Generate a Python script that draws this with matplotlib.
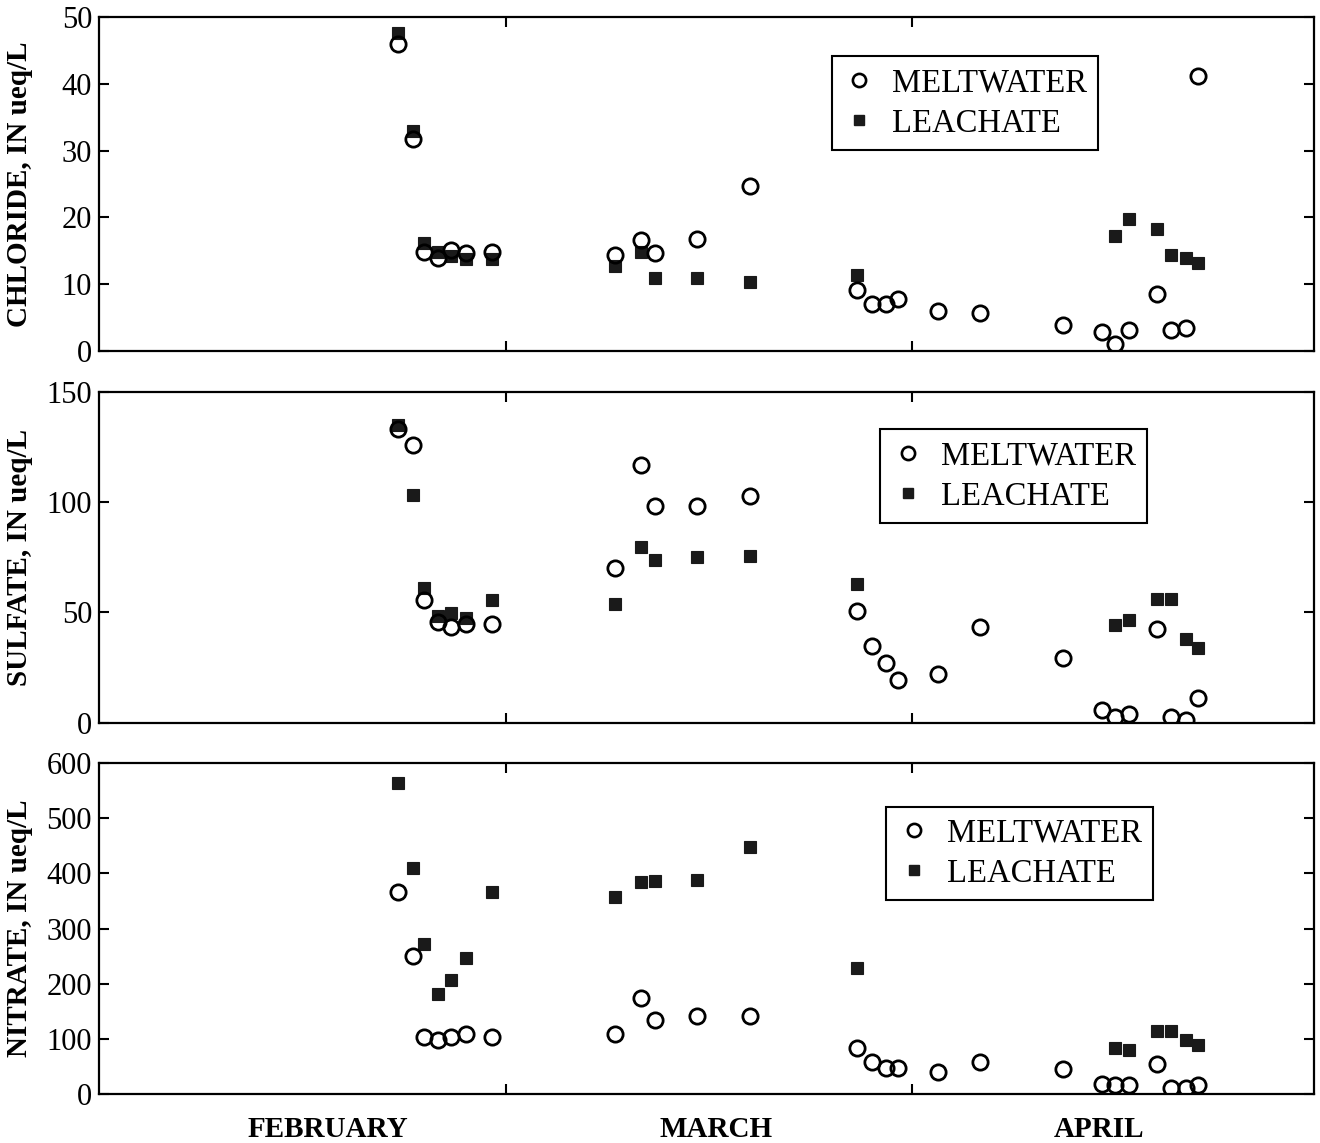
import matplotlib
matplotlib.use("Agg")
import matplotlib.pyplot as plt
from matplotlib.lines import Line2D

# ---- data (x = day counted from March 1) ----
melt_days = [-8.3, -7.1, -6.3, -5.2, -4.2, -3.1, -1.1, 8.3, 10.3, 11.4, 14.6, 18.6,
             26.8, 27.9, 29.0, 29.9, 33.0, 36.2, 42.5, 45.5, 46.5, 47.6, 49.7, 50.8, 51.9, 52.8]
leach_days = [-8.3, -7.1, -6.3, -5.2, -4.2, -3.1, -1.1, 8.3, 10.3, 11.4, 14.6, 18.6,
              26.8, 46.5, 47.6, 49.7, 50.8, 51.9, 52.8]

chloride_melt = [46.0, 31.7, 14.8, 13.9, 15.1, 14.6, 14.8, 14.3, 16.6, 14.6, 16.7, 24.7,
                 9.2, 7.1, 7.1, 7.8, 6.0, 5.7, 3.9, 2.8, 1.0, 3.2, 8.6, 3.2, 3.5, 41.2]
chloride_leach = [47.6, 32.9, 16.2, 14.8, 14.2, 13.8, 13.8, 12.7, 14.8, 10.9, 10.9, 10.3,
                  11.4, 17.2, 19.7, 18.3, 14.3, 13.9, 13.2]

sulfate_melt = [133.4, 126.1, 55.6, 45.5, 43.5, 44.7, 45.0, 70.0, 116.8, 98.2, 98.3, 102.7,
                50.7, 34.8, 26.9, 19.3, 21.9, 43.2, 29.2, 5.8, 2.4, 3.8, 42.3, 2.4, 1.2, 11.3]
sulfate_leach = [134.9, 103.5, 61.3, 48.3, 49.8, 47.3, 55.6, 53.8, 79.8, 73.7, 75.2, 75.5,
                 62.8, 44.3, 46.5, 56.0, 56.0, 38.1, 33.7]

nitrate_melt = [365.8, 250.1, 102.5, 97.5, 102.5, 107.9, 103.5, 107.9, 173.3, 133.9, 141.7, 141.7,
                83.6, 57.0, 47.2, 47.2, 40.0, 57.0, 44.9, 17.0, 16.4, 16.4, 53.4, 9.8, 9.8, 15.8]
nitrate_leach = [563.9, 409.4, 271.4, 180.6, 206.5, 246.0, 366.9, 357.9, 384.0, 387.0, 388.2, 448.7,
                 227.8, 83.6, 79.4, 113.9, 113.9, 97.5, 88.5]

panel_labels = ["CHLORIDE, IN ueq/L", "SULFATE, IN ueq/L", "NITRATE, IN ueq/L"]
panel_ymax = [50, 150, 600]
panel_yticks = [[0, 10, 20, 30, 40, 50], [0, 50, 100, 150], [0, 100, 200, 300, 400, 500, 600]]
month_names = ["FEBRUARY", "MARCH", "APRIL"]
month_label_pos = [-13.6, 16.0, 45.3]
month_bounds = [0, 31]
series_names = ["MELTWATER", "LEACHATE"]

# ---- figure ----
plt.rcParams["font.family"] = ["Liberation Serif", "DejaVu Serif"]
fig = plt.figure(figsize=(13.2, 11.43), dpi=100)

positions = [[0.075, 0.6929, 0.9205, 0.2922],
             [0.075, 0.3677, 0.9205, 0.2893],
             [0.075, 0.0431, 0.9205, 0.2891]]
legend_anchor = [(0.603, 0.882), (0.643, 0.887), (0.648, 0.869)]

melt_sets = [chloride_melt, sulfate_melt, nitrate_melt]
leach_sets = [chloride_leach, sulfate_leach, nitrate_leach]

for i in range(3):
    ax = fig.add_axes(positions[i])
    ax.plot(leach_days, leach_sets[i], linestyle="none", marker="s", ms=8.5,
            mfc="#1a1a1a", mec="#1a1a1a", mew=0.8, zorder=3)
    ax.plot(melt_days, melt_sets[i], linestyle="none", marker="o", ms=11,
            mfc="none", mec="black", mew=2.0, zorder=4)

    ax.set_xlim(-31.1, 61.7)
    ax.set_ylim(0, panel_ymax[i])
    ax.set_yticks(panel_yticks[i])
    ax.set_xticks(month_bounds)
    ax.set_xticklabels([])
    ax.tick_params(axis="both", which="major", direction="in", length=7.5, width=1.5,
                   top=True, right=True, labelsize=22, pad=5, color="black")
    for sp in ax.spines.values():
        sp.set_linewidth(1.6)

    ax.set_ylabel(panel_labels[i], fontsize=21, fontweight="bold")
    ax.yaxis.set_label_coords(-0.054, 0.5)

    if i == 2:
        ax.set_xticks(month_label_pos, minor=True)
        ax.set_xticklabels(month_names, minor=True, fontsize=21, fontweight="bold")
        ax.tick_params(axis="x", which="minor", length=0, pad=16)

    handles = [Line2D([], [], linestyle="none", marker="o", ms=9.5, mfc="none", mec="black", mew=1.9),
               Line2D([], [], linestyle="none", marker="s", ms=7.5, mfc="#1a1a1a", mec="#1a1a1a")]
    leg = ax.legend(handles, series_names, loc="upper left", bbox_to_anchor=legend_anchor[i],
                    borderaxespad=0, frameon=True, fancybox=False, edgecolor="black",
                    fontsize=23.5, handlelength=1.0, handletextpad=0.5, borderpad=0.35,
                    labelspacing=0.3, framealpha=1)
    leg.get_frame().set_linewidth(1.5)

fig.savefig("out.png", dpi=100)
